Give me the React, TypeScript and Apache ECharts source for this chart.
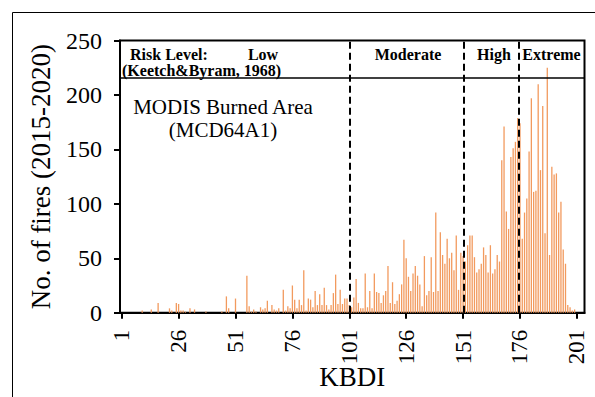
import React, { useEffect, useRef } from "react";
import * as echarts from "echarts";

// KBDI classes 1..201
const kbdi: number[] = Array.from({ length: 201 }, (_, i) => i + 1);

// Number of fires (2015-2020) per KBDI value
const fires: number[] = [
  // 1-10
  0, 0, 0, 0, 0, 0, 0, 0, 0, 2,
  // 11-20
  0, 0, 0, 3, 0, 0, 9, 0, 0, 0,
  // 21-30
  0, 4, 2, 0, 9, 8, 2, 2, 1, 0,
  // 31-40
  4, 0, 3, 0, 0, 0, 0, 1, 0, 0,
  // 41-50
  0, 0, 0, 0, 1, 0, 15, 4, 0, 0,
  // 51-60
  13, 0, 0, 0, 0, 34, 6, 1, 3, 1,
  // 61-70
  0, 5, 3, 4, 11, 0, 7, 3, 2, 4,
  // 71-80
  0, 21, 2, 6, 4, 25, 12, 4, 12, 7,
  // 81-90
  39, 2, 13, 12, 5, 20, 7, 17, 7, 23,
  // 91-100
  7, 3, 7, 18, 35, 8, 21, 8, 13, 13,
  // 101-110
  7, 5, 14, 31, 9, 4, 4, 36, 5, 20,
  // 111-120
  4, 36, 19, 18, 9, 16, 20, 43, 9, 28,
  // 121-130
  8, 11, 17, 26, 67, 50, 33, 20, 36, 43,
  // 131-140
  34, 26, 6, 52, 16, 20, 51, 19, 92, 20,
  // 141-150
  74, 53, 45, 68, 50, 55, 39, 71, 21, 55,
  // 151-160
  52, 47, 62, 71, 71, 51, 37, 40, 45, 60,
  // 161-170
  53, 37, 62, 36, 40, 53, 47, 140, 171, 93,
  // 171-180
  77, 143, 151, 157, 179, 174, 68, 92, 105, 148,
  // 181-190
  197, 111, 112, 210, 131, 190, 73, 225, 53, 134,
  // 191-200
  127, 128, 92, 102, 58, 45, 7, 5, 2, 3,
  // 201
  0,
];

const xTickValues: number[] = [1, 26, 51, 76, 101, 126, 151, 176, 201];
const riskBoundaries: number[] = [101, 151.4, 175.4];
const headerLineValue = 215.7;
const riskLevels: string[] = ["Low", "Moderate", "High", "Extreme"];

const SERIF = '"Liberation Serif", "Times New Roman", serif';

export default function App() {
  const ref = useRef<HTMLDivElement>(null);

  useEffect(() => {
    if (!ref.current) return;
    const chart = echarts.init(ref.current, undefined, { renderer: "svg" });

    const barData = kbdi.map((k, i) => [k, fires[i]]);

    const markData: any[] = [
      {
        yAxis: headerLineValue,
        lineStyle: { type: "solid", color: "#000", width: 1.5 },
      },
      ...riskBoundaries.map((v) => ({
        xAxis: v,
        lineStyle: { type: [7, 4], color: "#000", width: 2 },
      })),
    ];

    const levelX = [263, 408, 494, 551.5];

    chart.setOption({
      animation: false,
      backgroundColor: "#fff",
      grid: {
        left: 120,
        right: 10.5,
        top: 40.6,
        bottom: 84.3,
        show: true,
        borderColor: "#000",
        borderWidth: 2,
        backgroundColor: "transparent",
        containLabel: false,
        outerBoundsMode: "none",
      },
      xAxis: {
        type: "value",
        min: 0.25,
        max: 204.35,
        name: "KBDI",
        nameLocation: "middle",
        nameGap: 51,
        nameMoveOverlap: false,
        nameTextStyle: { fontFamily: SERIF, fontSize: 27, color: "#000" },
        axisLine: { show: true, lineStyle: { color: "#000", width: 2 } },
        axisTick: {
          show: true,
          length: 6,
          lineStyle: { color: "#000", width: 2 },
          customValues: xTickValues,
        },
        axisLabel: {
          rotate: 90,
          margin: 17,
          fontFamily: SERIF,
          fontSize: 23,
          color: "#000",
          customValues: xTickValues,
        },
        splitLine: { show: false },
      },
      yAxis: {
        type: "value",
        min: 0,
        max: 250,
        interval: 50,
        name: "No. of fires (2015-2020)",
        nameLocation: "middle",
        nameGap: 66,
        nameMoveOverlap: false,
        nameTextStyle: { fontFamily: SERIF, fontSize: 27, color: "#000" },
        axisLine: { show: true, lineStyle: { color: "#000", width: 2 } },
        axisTick: { show: true, length: 6, lineStyle: { color: "#000", width: 2 } },
        axisLabel: { margin: 18, fontFamily: SERIF, fontSize: 24, color: "#000" },
        splitLine: { show: false },
      },
      series: [
        {
          type: "bar",
          data: barData,
          barWidth: 1.3,
          itemStyle: { color: "#F29A5E" },
          markLine: {
            silent: true,
            symbol: "none",
            label: { show: false },
            data: markData,
          },
        },
      ],
      graphic: [
        {
          type: "line",
          shape: { x1: 12.5, y1: 12.5, x2: 595, y2: 12.5 },
          style: { stroke: "#000", lineWidth: 1 },
        },
        {
          type: "line",
          shape: { x1: 12.5, y1: 12.5, x2: 12.5, y2: 397 },
          style: { stroke: "#000", lineWidth: 1 },
        },
        {
          type: "text",
          x: 130,
          y: 54,
          style: {
            text: "Risk Level:",
            font: `bold 16px ${SERIF}`,
            fill: "#000",
            align: "left",
            verticalAlign: "middle",
          },
        },
        {
          type: "text",
          x: 122,
          y: 70,
          style: {
            text: "(Keetch&Byram, 1968)",
            font: `bold 16px ${SERIF}`,
            fill: "#000",
            align: "left",
            verticalAlign: "middle",
          },
        },
        ...riskLevels.map((t, i) => ({
          type: "text",
          x: levelX[i],
          y: 54,
          style: {
            text: t,
            font: `bold 16px ${SERIF}`,
            fill: "#000",
            align: "center",
            verticalAlign: "middle",
          },
        })),
        {
          type: "text",
          x: 223,
          y: 107,
          style: {
            text: "MODIS Burned Area",
            font: `21px ${SERIF}`,
            fill: "#000",
            align: "center",
            verticalAlign: "middle",
          },
        },
        {
          type: "text",
          x: 223,
          y: 130,
          style: {
            text: "(MCD64A1)",
            font: `21px ${SERIF}`,
            fill: "#000",
            align: "center",
            verticalAlign: "middle",
          },
        },
      ],
    });

    return () => chart.dispose();
  }, []);

  return (
    <div
      ref={ref}
      style={{ position: "fixed", left: 0, top: 0, width: 595, height: 397 }}
    />
  );
}
